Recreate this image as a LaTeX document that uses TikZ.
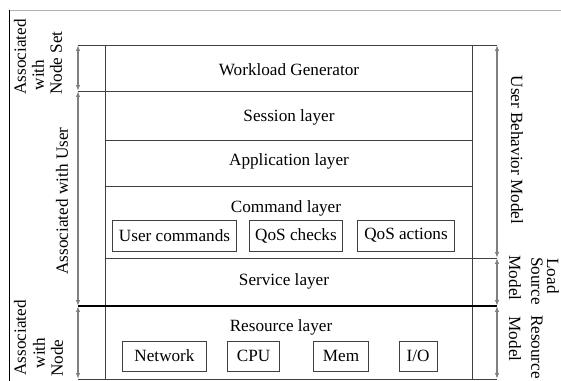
\documentclass[tikz,border=0pt]{standalone}
\usepackage{fontspec}
\setmainfont{Liberation Serif}
\usetikzlibrary{arrows.meta}
\begin{document}
\begin{tikzpicture}[x=0.6pt,y=-0.6pt,
 lbl/.style={font=\fontsize{10.3}{12}\selectfont, inner sep=0pt},
 subbox/.style={lbl, draw=black!75, line width=0.6pt},
 frameline/.style={draw=black!75, line width=0.6pt},
 dimline/.style={draw=black!50, line width=0.7pt, {Latex[length=3.5pt,width=2.6pt]}-{Latex[length=3.5pt,width=2.6pt]}},
]
\useasboundingbox (0,0) rectangle (561,381);
% page frame
\draw[black!30, line width=0.6pt] (10,10) -- (561,10);
\draw[black, line width=0.6pt] (10,10) -- (10,381);

% coordinates for the dimension arrows
\coordinate (L1) at (78,45);
\coordinate (L2) at (78,91);
\coordinate (L3) at (78,306);
\coordinate (L4) at (78,379);
\coordinate (R1) at (497,45);
\coordinate (R2) at (497,258);
\coordinate (R3) at (497,306);
\coordinate (R4) at (497,379);

% main layered box
\draw[frameline] (105,45) -- (105,379);
\draw[frameline] (472,45) -- (472,379);
\draw[frameline] (L1) -- (R1);
\draw[frameline] (L2) -- (472,91);
\draw[frameline] (105,140) -- (472,140);
\draw[frameline] (105,186) -- (472,186);
\draw[frameline] (105,258) -- (R2);
\draw[black, line width=1.4pt] (L3) -- (R3);
\draw[frameline] (L4) -- (R4);

% layer titles
\node[lbl] (wg) at (289,70) {Workload Generator};
\node[lbl] (sess) at (289,117) {Session layer};
\node[lbl] (app) at (289,161) {Application layer};
\node[lbl] (cmd) at (286,208) {Command layer};
\node[lbl] (serv) at (284,281) {Service layer};
\node[lbl] (res) at (281,327) {Resource layer};

% command sub boxes
\node[subbox, minimum width=75pt, minimum height=18.6pt] (uc) at (174.5,235.5) {User commands};
\node[subbox, minimum width=56.4pt, minimum height=18.6pt] (qc) at (296,235.5) {QoS checks};
\node[subbox, minimum width=58.8pt, minimum height=18.6pt] (qa) at (406,235.5) {QoS actions};

% resource sub boxes
\node[subbox, minimum width=51pt, minimum height=18pt] (net) at (164.5,356) {Network};
\node[subbox, minimum width=31.8pt, minimum height=18pt] (cpu) at (253.5,356) {CPU};
\node[subbox, minimum width=33.6pt, minimum height=18pt] (mem) at (341,356) {Mem};
\node[subbox, minimum width=22.8pt, minimum height=18pt] (io) at (418,356) {I/O};

% dimension arrows
\draw[dimline] (L1) -- (L2);
\draw[dimline] (L2) -- (L3);
\draw[dimline] (L3) -- (L4);
\draw[dimline] (R1) -- (R2);
\draw[dimline] (R2) -- (R3);
\draw[dimline] (R3) -- (R4);

% left labels
\node[lbl, rotate=90] (a1) at (20,57) {Associated};
\node[lbl, rotate=90] (a2) at (38,75) {with};
\node[lbl, rotate=90] (a3) at (56,63) {Node Set};
\node[lbl, rotate=90] (au) at (62,201) {Associated with User};
\node[lbl, rotate=90] (b1) at (20,338) {Associated};
\node[lbl, rotate=90] (b2) at (39,353) {with};
\node[lbl, rotate=90] (b3) at (57,358) {Node};

% right labels
\node[lbl, rotate=-90] (ub) at (517,150) {User Behavior Model};
\node[lbl, rotate=-90] (ls1) at (553,276) {Load};
\node[lbl, rotate=-90] (ls2) at (537,281) {Source};
\node[lbl, rotate=-90] (ls3) at (515,278) {Model};
\node[lbl, rotate=-90] (rm1) at (537,347) {Resource};
\node[lbl, rotate=-90] (rm2) at (515,339) {Model};
\end{tikzpicture}
\end{document}
